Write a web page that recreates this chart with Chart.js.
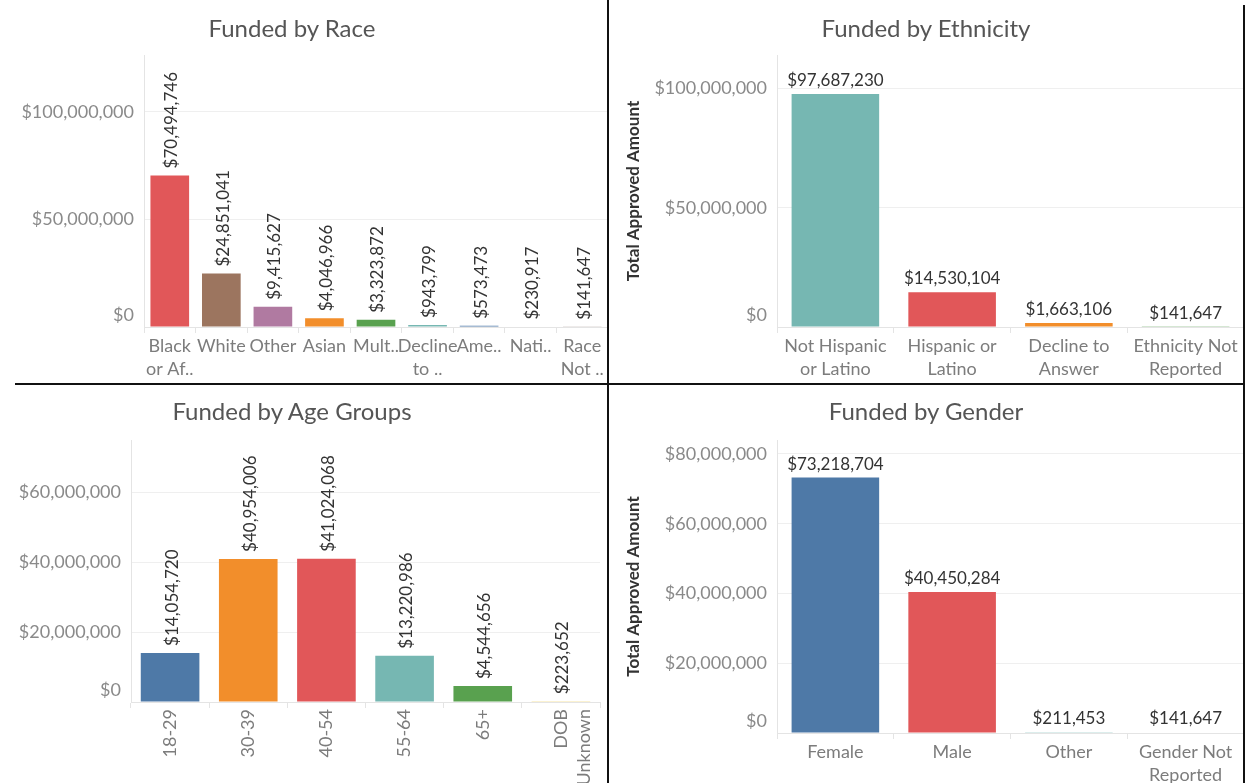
<!DOCTYPE html>
<html>
<head>
<meta charset="utf-8">
<script src="https://cdn.jsdelivr.net/npm/chart.js@4.4.1/dist/chart.umd.min.js"></script>
<style>
  body { margin: 0; background: #fff; width: 1256px; height: 783px; overflow: hidden; position: relative; font-family: Lato, sans-serif; }
  .panel { position: absolute; }
  .title { position: absolute; transform: translateX(-50%); font-size: 24px; line-height: 24px; color: #555; white-space: nowrap; }
  .rule { position: absolute; background: #111; }
</style>
</head>
<body>
<div class="panel" style="left:0;top:0;width:608px;height:383px"><canvas id="raceChart"></canvas></div>
<div class="panel" style="left:610px;top:0;width:634px;height:383px"><canvas id="ethnicityChart"></canvas></div>
<div class="panel" style="left:0;top:385px;width:608px;height:398px"><canvas id="ageChart"></canvas></div>
<div class="panel" style="left:610px;top:385px;width:634px;height:398px"><canvas id="genderChart"></canvas></div>

<div class="title" style="left:292px;top:16px">Funded by Race</div>
<div class="title" style="left:926px;top:16px">Funded by Ethnicity</div>
<div class="title" style="left:292px;top:399px">Funded by Age Groups</div>
<div class="title" style="left:926px;top:399px">Funded by Gender</div>

<div class="rule" style="left:607px;top:0;width:2px;height:783px"></div>
<div class="rule" style="left:15px;top:383px;width:1230px;height:2px"></div>
<div class="rule" style="left:1243px;top:5px;width:2px;height:778px"></div>

<script>
// Data
const raceLabels = [["Black", "or Af.."], "White", "Other", "Asian", "Mult..", ["Decline", "to .."], "Ame..", "Nati..", ["Race", "Not .."]];
const raceValues = [70494746, 24851041, 9415627, 4046966, 3323872, 943799, 573473, 230917, 141647];
const raceTicks = [0, 50000000, 100000000];

const ethnicityLabels = [["Not Hispanic", "or Latino"], ["Hispanic or", "Latino"], ["Decline to", "Answer"], ["Ethnicity Not", "Reported"]];
const ethnicityValues = [97687230, 14530104, 1663106, 141647];
const ethnicityTicks = [0, 50000000, 100000000];

const ageLabels = ["18-29", "30-39", "40-54", "55-64", "65+", ["DOB", "Unknown"]];
const ageValues = [14054720, 40954006, 41024068, 13220986, 4544656, 223652];
const ageTicks = [0, 20000000, 40000000, 60000000];

const genderLabels = ["Female", "Male", "Other", ["Gender Not", "Reported"]];
const genderValues = [73218704, 40450284, 211453, 141647];
const genderTicks = [0, 20000000, 40000000, 60000000, 80000000];

const yTitle = "Total Approved Amount";

// Tableau 10 colours
const red = "#e15759", brown = "#9c755f", purple = "#b07aa1", orange = "#f28e2b",
      green = "#59a14f", teal = "#76b7b2", blue = "#4e79a7", pink = "#ff9da7",
      grey = "#bab0ac", yellow = "#edc948";

const money = (v) => "$" + Math.round(v).toLocaleString("en-US");

const tickFont = { family: "Lato", size: 18 };
const catFont = { family: "Lato", size: 18, lineHeight: 1.28 };
const valueFont = "17px Lato";

// value labels above bars + the "$0" tick that Tableau nudges up
const barLabels = {
  id: "barLabels",
  afterDatasetsDraw(chart, args, opts) {
    const { ctx } = chart;
    const meta = chart.getDatasetMeta(0);
    const data = chart.data.datasets[0].data;
    ctx.save();
    ctx.font = valueFont;
    ctx.fillStyle = "#333";
    meta.data.forEach((bar, i) => {
      const text = money(data[i]);
      if (opts.vertical) {
        ctx.save();
        ctx.translate(bar.x + 2, bar.y - 7);
        ctx.rotate(-Math.PI / 2);
        ctx.textAlign = "left";
        ctx.textBaseline = "middle";
        ctx.fillText(text, 0, 0);
        ctx.restore();
      } else {
        ctx.textAlign = "center";
        ctx.textBaseline = "bottom";
        ctx.fillText(text, bar.x, bar.y - 5);
      }
    });
    const y = chart.scales.y;
    ctx.font = "18px Lato";
    ctx.fillStyle = "#8a8a8a";
    ctx.textAlign = "right";
    ctx.textBaseline = "middle";
    ctx.fillText(money(0), chart.chartArea.left - 10, y.getPixelForValue(0) - 12);
    ctx.restore();
  }
};

function makeChart(id, o) {
  return new Chart(document.getElementById(id), {
    type: "bar",
    data: {
      labels: o.labels,
      datasets: [{
        data: o.values,
        backgroundColor: o.colors,
        barPercentage: 0.75,
        categoryPercentage: 1
      }]
    },
    plugins: [barLabels],
    options: {
      responsive: true,
      maintainAspectRatio: false,
      animation: false,
      layout: { padding: { top: 55, left: 0, right: 0, bottom: 0 } },
      plugins: {
        legend: { display: false },
        tooltip: { enabled: false },
        barLabels: { vertical: o.verticalValues }
      },
      scales: {
        x: {
          afterFit: (s) => { s.height = o.xHeight; },
          grid: { offset: true, drawOnChartArea: false, tickLength: 6, color: "#e4e4e4" },
          border: { color: "#e4e4e4" },
          ticks: {
            autoSkip: false,
            minRotation: o.rotateCats ? 90 : 0,
            maxRotation: o.rotateCats ? 90 : 0,
            padding: o.rotateCats ? 1 : 2,
            color: "#7c7c7c",
            font: catFont
          }
        },
        y: {
          min: 0,
          max: o.max,
          afterFit: (s) => { s.width = o.yWidth; },
          afterBuildTicks: (s) => { s.ticks = o.ticks.map((v) => ({ value: v })); },
          grid: { color: "#efefef", drawTicks: false },
          border: { color: "#e4e4e4" },
          ticks: {
            padding: 10,
            color: "#8a8a8a",
            font: tickFont,
            callback: (v) => (v === 0 ? "" : money(v))
          },
          title: {
            display: !!o.yTitle,
            text: o.yTitle,
            color: "#333",
            font: { family: "Lato", size: 17, weight: "bold" },
            padding: { top: 13, bottom: 0 }
          }
        }
      }
    }
  });
}

makeChart("raceChart", {
  labels: raceLabels, values: raceValues, ticks: raceTicks, max: 126500000,
  colors: [red, brown, purple, orange, green, teal, blue, pink, grey],
  yWidth: 144, xHeight: 56, verticalValues: true, rotateCats: false
});

makeChart("ethnicityChart", {
  labels: ethnicityLabels, values: ethnicityValues, ticks: ethnicityTicks, max: 114000000,
  colors: [teal, red, orange, green],
  yWidth: 167, xHeight: 56, verticalValues: false, rotateCats: false, yTitle: yTitle
});

makeChart("ageChart", {
  labels: ageLabels, values: ageValues, ticks: ageTicks, max: 75000000,
  colors: [blue, orange, red, teal, green, yellow],
  yWidth: 131, xHeight: 81, verticalValues: true, rotateCats: true
});

makeChart("genderChart", {
  labels: genderLabels, values: genderValues, ticks: genderTicks, max: 84000000,
  colors: [blue, red, teal, green],
  yWidth: 167, xHeight: 50, verticalValues: false, rotateCats: false, yTitle: yTitle
});
</script>
</body>
</html>
